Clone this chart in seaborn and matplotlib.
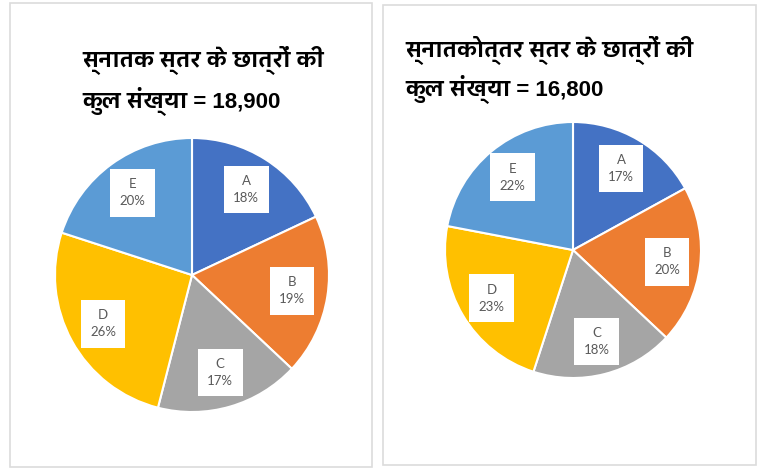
import matplotlib
matplotlib.use("Agg")
import matplotlib.pyplot as plt
import seaborn as sns
from matplotlib import font_manager
from matplotlib.ft2font import FT2Font
from matplotlib.patches import Rectangle

# data
categories = ["A", "B", "C", "D", "E"]
ug_share = [18, 19, 17, 26, 20]
pg_share = [17, 20, 18, 23, 22]
ug_title = ["स्नातक स्तर के छात्रों की", "कुल संख्या = 18,900"]
pg_title = ["स्नातकोत्तर स्तर के छात्रों की", "कुल संख्या = 16,800"]
colors = ["#4472C4", "#ED7D31", "#A5A5A5", "#FFC000", "#5B9BD5"]

sns.set_theme(style="white")


# pick an installed font with Devanagari glyphs, preferring a sans one
def find_devanagari():
    best, best_score = None, -99
    for f in font_manager.fontManager.ttflist:
        try:
            if 0x0915 not in FT2Font(f.fname).get_charmap():
                continue
        except Exception:
            continue
        name = f.name
        score = 0
        if "Devanagari" in name:
            score += 2
        if "Sans" in name:
            score += 2
        if "Mono" in name:
            score -= 3
        if "Serif" in name:
            score -= 1
        if f.weight in ("bold", 700):
            score += 1
        if score > best_score:
            best, best_score = name, score
    return best


deva = find_devanagari()
title_fams = ["Liberation Sans"] + ([deva] if deva else []) + ["DejaVu Sans"]
plt.rcParams["font.family"] = ["Lato", "DejaVu Sans"]

W, H = 757, 470
fig = plt.figure(figsize=(W / 100, H / 100), dpi=100)
fig.patch.set_facecolor("white")

# panel borders
for x0, y0, x1, y1 in [(10, 3, 372, 467), (383, 5, 756, 465)]:
    fig.add_artist(Rectangle((x0 / W, 1 - y1 / H), (x1 - x0) / W, (y1 - y0) / H,
                             transform=fig.transFigure, fill=False,
                             edgecolor="#dcdcdc", lw=1.2))


def draw_pie(cx, cy, r, values, title, tx, ty1, ty2):
    ax = fig.add_axes([(cx - r) / W, 1 - (cy + r) / H, 2 * r / W, 2 * r / H])
    labels = [f"{c}\n{v}%" for c, v in zip(categories, values)]
    wedges, texts = ax.pie(values, labels=labels, colors=colors, startangle=90,
                           counterclock=False, labeldistance=0.74,
                           wedgeprops=dict(edgecolor="white", linewidth=1.5),
                           textprops=dict(fontsize=9.5, color="#595959"))
    for t in texts:
        t.set_ha("center")
        t.set_va("center")
        t.set_linespacing(1.5)
        t.set_bbox(dict(boxstyle="square,pad=0.7", facecolor="white",
                        edgecolor="none"))
    ax.set_xlim(-1, 1)
    ax.set_ylim(-1, 1)
    ax.set_aspect("auto")
    fig.text(tx / W, 1 - ty1 / H, title[0], fontsize=16, fontweight="bold",
             family=title_fams, va="center", ha="left", color="black")
    fig.text(tx / W, 1 - ty2 / H, title[1], fontsize=16, fontweight="bold",
             family=title_fams, va="center", ha="left", color="black")


draw_pie(192, 275, 137, ug_share, ug_title, 82, 60, 101)
draw_pie(573, 250, 128, pg_share, pg_title, 405, 50, 89)

fig.savefig("out.png", dpi=100, facecolor="white")
